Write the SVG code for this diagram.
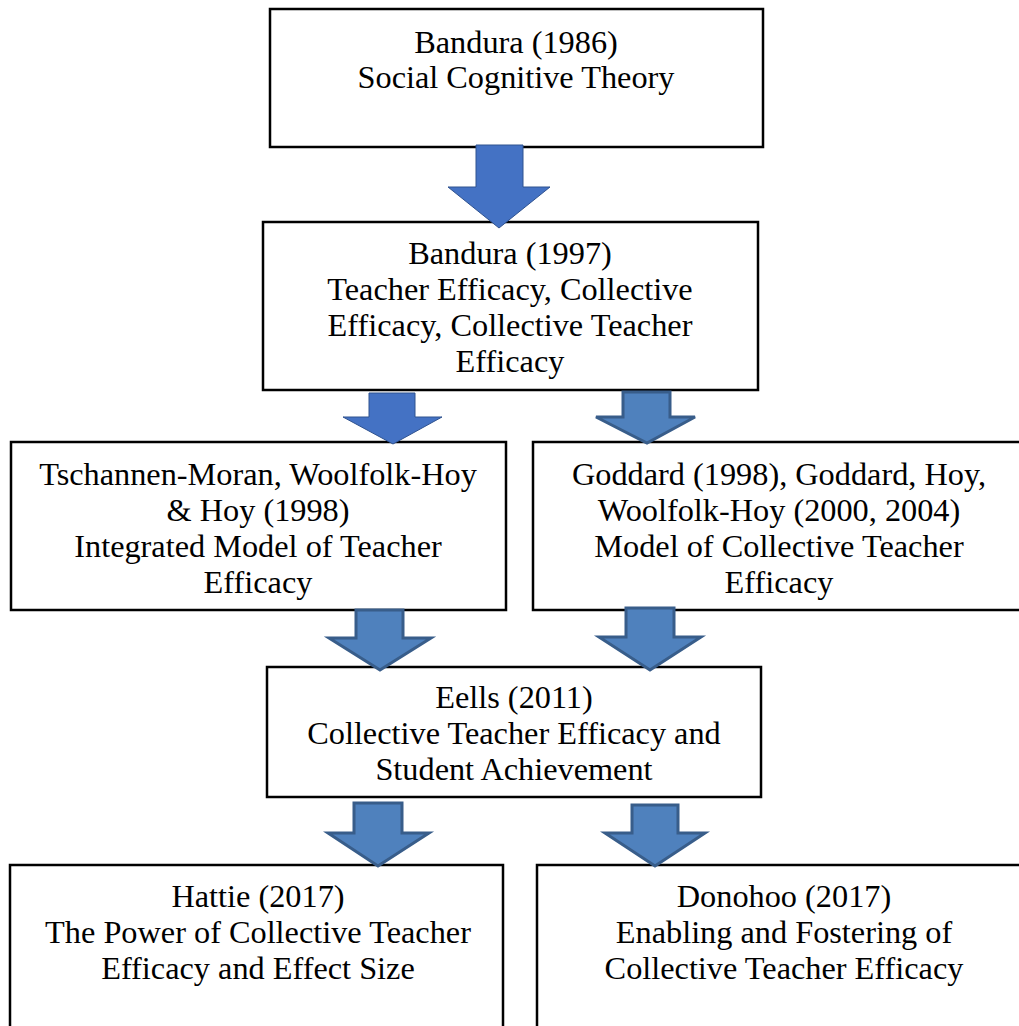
<svg xmlns="http://www.w3.org/2000/svg" width="1019" height="1026" viewBox="0 0 1019 1026">
<style>
.box{fill:#fff;stroke:#000;stroke-width:2.5}
text{font-family:"Liberation Serif","Times New Roman",serif;font-size:32.3px;fill:#000;text-anchor:middle}
.a1{fill:#4472C4;stroke:#2F528F;stroke-width:1}
.a2{fill:#4F81BD;stroke:#385D8A;stroke-width:3}
</style>
<rect width="1019" height="1026" fill="#fff"/>
<g id="n1"><rect class="box" x="270" y="9" width="493" height="138"/>
<text x="516" y="53">Bandura (1986)</text><text x="516" y="88">Social Cognitive Theory</text></g>
<g id="n2"><rect class="box" x="263" y="222" width="495" height="168"/>
<text x="510" y="264">Bandura (1997)</text><text x="510" y="300">Teacher Efficacy, Collective</text><text x="510" y="336">Efficacy, Collective Teacher</text><text x="510" y="372">Efficacy</text></g>
<g id="n3"><rect class="box" x="11" y="442" width="495" height="168"/>
<text x="258" y="485">Tschannen-Moran, Woolfolk-Hoy</text><text x="258" y="521">&amp; Hoy (1998)</text><text x="258" y="557">Integrated Model of Teacher</text><text x="258" y="593">Efficacy</text></g>
<g id="n4"><rect class="box" x="533" y="442" width="500" height="168"/>
<text x="779" y="485">Goddard (1998), Goddard, Hoy,</text><text x="779" y="521">Woolfolk-Hoy (2000, 2004)</text><text x="779" y="557">Model of Collective Teacher</text><text x="779" y="593">Efficacy</text></g>
<g id="n5"><rect class="box" x="267" y="667" width="494" height="130"/>
<text x="514" y="708">Eells (2011)</text><text x="514" y="744">Collective Teacher Efficacy and</text><text x="514" y="780">Student Achievement</text></g>
<g id="n6"><rect class="box" x="10" y="865" width="493" height="180"/>
<text x="258" y="907">Hattie (2017)</text><text x="258" y="943">The Power of Collective Teacher</text><text x="258" y="979">Efficacy and Effect Size</text></g>
<g id="n7"><rect class="box" x="537" y="865" width="500" height="180"/>
<text x="784" y="907">Donohoo (2017)</text><text x="784" y="943">Enabling and Fostering of</text><text x="784" y="979">Collective Teacher Efficacy</text></g>
<g id="connectors">
<polygon class="a1" points="476,145 523,145 523,187 550,187 499,228 448,187 476,187"/>
<polygon class="a1" points="369,393 415,393 415,417 442,417 393,444 343,417 369,417"/>
<polygon class="a2" points="623,392 670,392 670,417 695,417 647,443 596,417 623,417"/>
<polygon class="a2" points="356,610 403,610 403,638 431,638 380,670 329,638 356,638"/>
<polygon class="a2" points="626,608 674,608 674,637 701,637 650,670 599,637 626,637"/>
<polygon class="a2" points="354,803 402,803 402,833 429,833 378,866 328,833 354,833"/>
<polygon class="a2" points="632,805 678,805 678,833 705,833 655,866 605,833 632,833"/>
</g>
</svg>
